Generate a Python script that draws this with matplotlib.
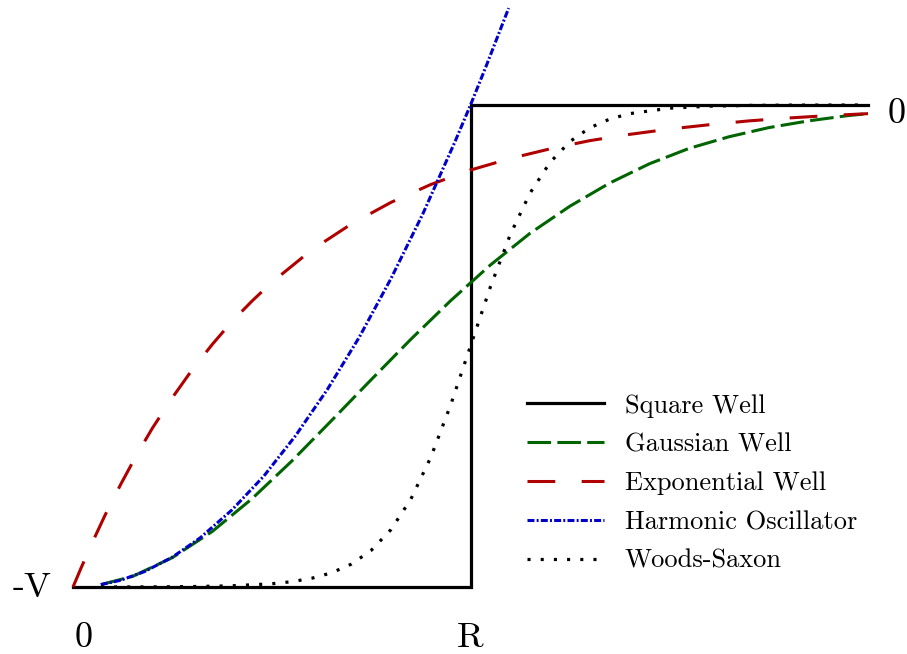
import matplotlib
matplotlib.use("Agg")
import matplotlib.pyplot as plt

plt.rcParams["font.family"] = ["cmr10", "DejaVu Serif"]
plt.rcParams["mathtext.fontset"] = "cm"
plt.rcParams["axes.unicode_minus"] = False
plt.rcParams["lines.scale_dashes"] = False

# Potential curves V(r), with r in units of R and V in units of the depth V
square_r = [0.0, 1.0, 1.0, 2.0]
square_v = [-1.0, -1.0, 0.0, 0.0]

gauss_r = [0.07, 0.15, 0.25, 0.35, 0.45, 0.55, 0.65, 0.75, 0.85, 0.95, 1.05,
           1.15, 1.25, 1.35, 1.45, 1.55, 1.65, 1.75, 1.85, 1.95, 2.0]
gauss_v = [-0.995, -0.978, -0.939, -0.885, -0.817, -0.739, -0.655, -0.570,
           -0.486, -0.406, -0.332, -0.266, -0.210, -0.162, -0.122, -0.090,
           -0.066, -0.047, -0.033, -0.022, -0.018]

expo_r = [0.0, 0.02, 0.05, 0.08, 0.12, 0.16, 0.2, 0.25, 0.3, 0.35, 0.4, 0.45,
          0.5, 0.6, 0.7, 0.8, 0.9, 1.0, 1.1, 1.2, 1.3, 1.4, 1.5, 1.6, 1.7,
          1.8, 1.9, 2.0]
expo_v = [-1.0, -0.961, -0.905, -0.852, -0.787, -0.726, -0.670, -0.607,
          -0.549, -0.497, -0.449, -0.407, -0.368, -0.301, -0.247, -0.202,
          -0.165, -0.135, -0.111, -0.091, -0.074, -0.061, -0.050, -0.041,
          -0.033, -0.027, -0.022, -0.018]

harm_r = [0.07, 0.12, 0.18, 0.25, 0.32, 0.4, 0.48, 0.56, 0.64, 0.72, 0.8,
          0.88, 0.96, 1.0, 1.04, 1.096]
harm_v = [-0.995, -0.986, -0.968, -0.938, -0.898, -0.840, -0.770, -0.686,
          -0.590, -0.482, -0.360, -0.226, -0.078, 0.0, 0.082, 0.201]

ws_r = [0.07, 0.2, 0.3, 0.4, 0.5, 0.55, 0.6, 0.65, 0.7, 0.75, 0.8, 0.85, 0.9,
        0.95, 1.0, 1.05, 1.1, 1.15, 1.2, 1.25, 1.3, 1.35, 1.4, 1.5, 1.6, 1.7,
        1.8, 2.0]
ws_v = [-1.0, -0.9997, -0.9991, -0.9975, -0.9933, -0.989, -0.982, -0.9707,
        -0.9526, -0.9241, -0.8808, -0.8176, -0.7311, -0.6225, -0.5, -0.3775,
        -0.2689, -0.1824, -0.1192, -0.0759, -0.0474, -0.0293, -0.018,
        -0.0067, -0.0025, -0.0009, -0.0003, 0.0]

labels = ["Square Well", "Gaussian Well", "Exponential Well",
          "Harmonic Oscillator", "Woods-Saxon"]

fig = plt.figure(figsize=(9.07, 6.54), dpi=100)
ax = fig.add_axes([0, 0, 1, 1])
ax.set_xlim(-0.1837, 2.0981)
ax.set_ylim(-1.139, 0.2178)
ax.axis("off")

ax.plot(square_r, square_v, color="black", lw=2.3, solid_joinstyle="miter",
        label=labels[0])
ax.plot(gauss_r, gauss_v, color="#006400", lw=2.2, ls=(0, (17, 4.5)),
        label=labels[1])
ax.plot(expo_r, expo_v, color="#b00000", lw=2.2, ls=(0, (20, 19)),
        label=labels[2])
ax.plot(harm_r, harm_v, color="#0000c8", lw=2.2,
        ls=(0, (5, 1.6, 1.4, 1.6)), label=labels[3])
ax.plot(ws_r, ws_v, color="black", lw=2.3, ls=(0, (2.2, 7.3)),
        label=labels[4])

# Axis markers drawn as plain text
ax.text(0.026, -1.124, "0", fontsize=26, ha="center", va="baseline")
ax.text(1.0, -1.124, "R", fontsize=26, ha="center", va="baseline")
ax.text(-0.103, -1.02, "-V", fontsize=26, ha="center", va="baseline")
ax.text(2.072, -0.038, "0", fontsize=26, ha="center", va="baseline")

ax.legend(loc="upper left", bbox_to_anchor=(527 / 907, 1 - 394 / 654),
          bbox_transform=fig.transFigure, frameon=False, fontsize=19,
          handlelength=2.9, handletextpad=0.8, borderpad=0,
          borderaxespad=0, labelspacing=0.57)

fig.savefig("out.png", dpi=100)
